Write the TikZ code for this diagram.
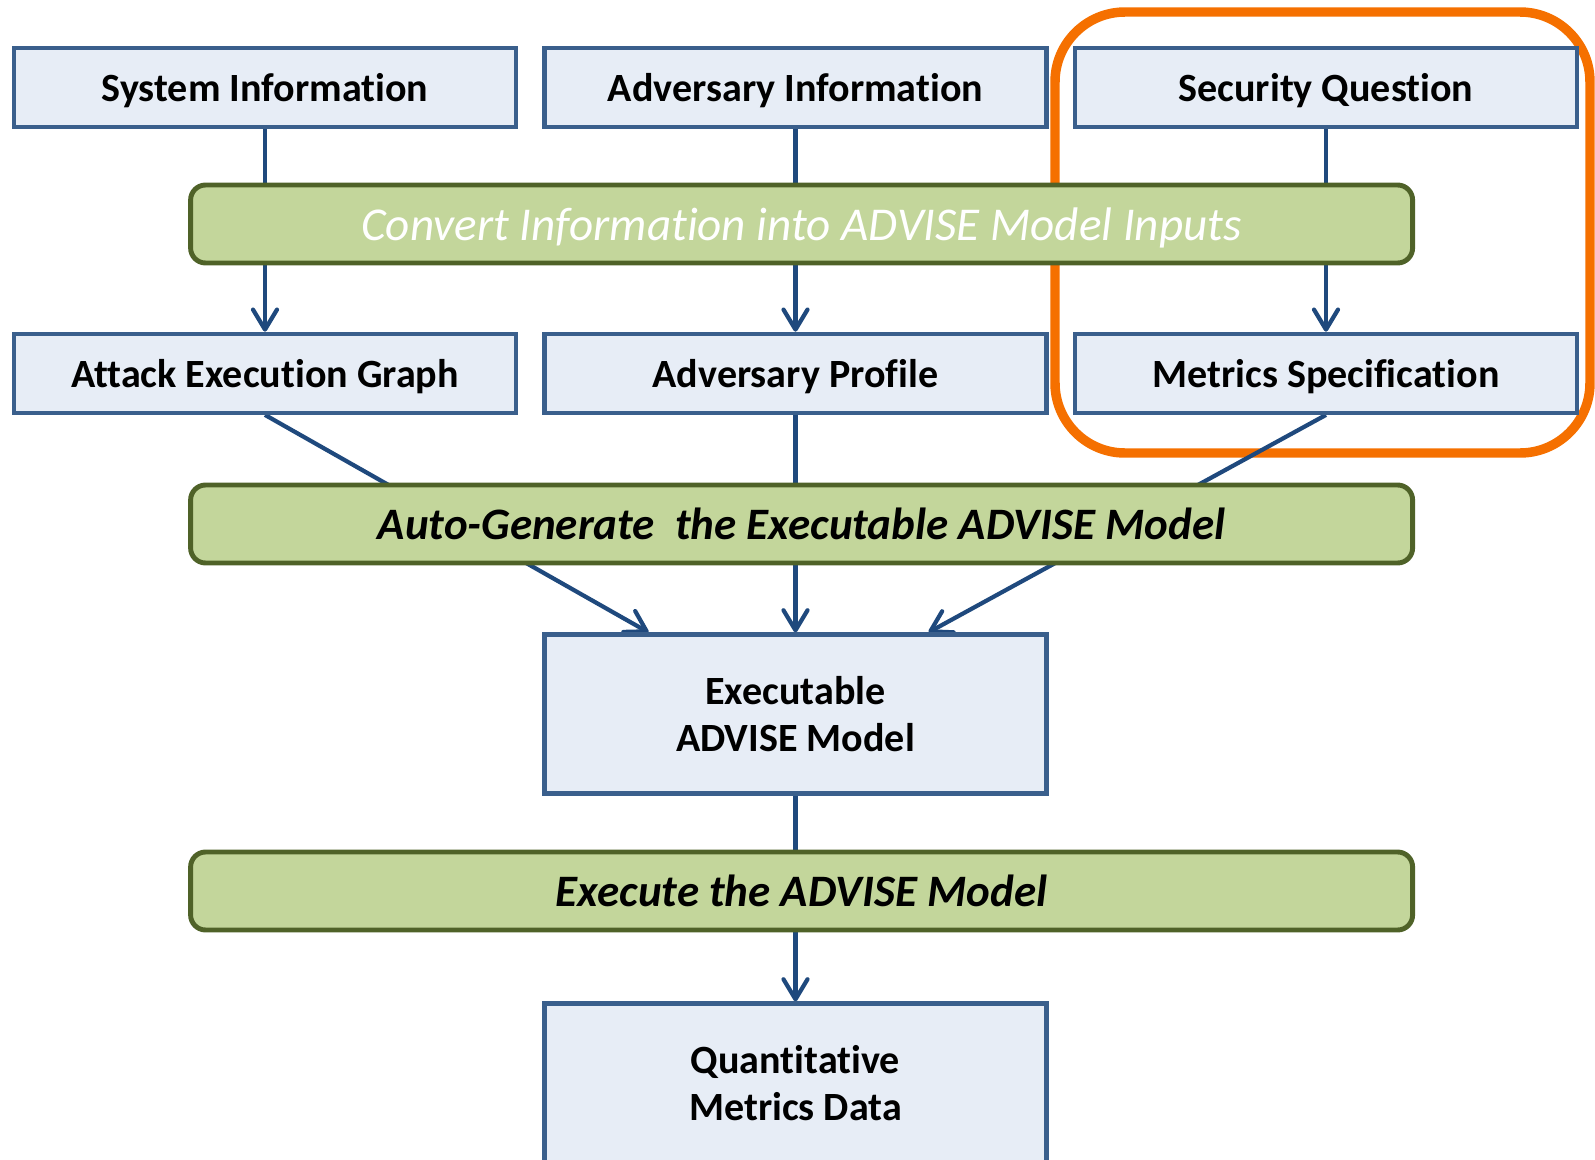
\documentclass[tikz,border=0pt]{standalone}
\usepackage{fontspec}
\setmainfont{Carlito}[Ligatures=NoCommon]
\usetikzlibrary{arrows.meta, positioning, backgrounds}
\definecolor{boxfill}{RGB}{231,237,246}
\definecolor{boxline}{RGB}{58,95,140}
\definecolor{stagefill}{RGB}{195,214,155}
\definecolor{stageline}{RGB}{79,98,40}
\definecolor{flowline}{RGB}{31,73,125}
\definecolor{focus}{RGB}{245,112,0}

\begin{document}
\begin{tikzpicture}[
    info/.style={rectangle, draw=boxline, fill=boxfill, line width=1.2pt,
                 minimum width=5.02cm, minimum height=0.79cm, inner sep=0pt, text depth=0pt,
                 align=center, font=\fontsize{11.4}{13.5}\selectfont\bfseries},
    stage/.style={rectangle, rounded corners=0.15cm, draw=stageline, fill=stagefill,
                  line width=1.4pt, minimum width=12.22cm, minimum height=0.78cm,
                  inner sep=0pt, text depth=0pt, font=\fontsize{12.8}{15}\selectfont\bfseries\itshape},
    flow/.style={draw=flowline, line width=1.2pt},
    arr/.style={flow, -{Straight Barb[length=2mm, width=2.4mm, round]}}]

    \useasboundingbox (0,0) rectangle (15.95,-11.6);

    % Information sources
    \node[info] (sysinfo) at (2.65, -0.875) {System Information};
    \node[info] (advinfo) at (7.955, -0.875) {Adversary Information};
    \node[info] (secq) at (13.26, -0.875) {Security Question};

    % Conversion step
    \node[stage, text=white, font=\fontsize{13.4}{16}\selectfont\itshape] (convert) at (8.016, -2.24) {Convert Information into ADVISE Model Inputs};

    % Model inputs
    \node[info] (aeg) at (2.65, -3.733) {Attack Execution Graph};
    \node[info] (advprof) at (7.955, -3.733) {Adversary Profile};
    \node[info] (metrics) at (13.26, -3.733) {Metrics Specification};

    % Generation and execution
    \node[stage] (autogen) at (8.016, -5.24) {Auto-Generate\ \ the Executable ADVISE Model};
    \node[info, minimum height=1.59cm, text depth={}] (execmodel) at (7.955, -7.14) {Executable\\ADVISE Model};
    \node[stage] (execute) at (8.016, -8.91) {Execute the ADVISE Model};
    \node[info, minimum height=1.59cm, text depth={}] (quant) at (7.955, -10.83) {Quantitative\\Metrics Data};

    \begin{scope}[on background layer]
        % Highlight
        \draw[focus, line width=2.7pt, rounded corners=0.7cm] (10.55, -0.12) rectangle (15.9, -4.53);

        % Connections
        \draw[arr] (sysinfo.south) -- (aeg.north);
        \draw[arr] (advinfo.south) -- (advprof.north);
        \draw[arr] (secq.south) -- (metrics.north);
        \draw[arr] (aeg.south) -- ([xshift=-1.47cm]execmodel.north);
        \draw[arr] (advprof.south) -- (execmodel.north);
        \draw[arr] (metrics.south) -- ([xshift=1.33cm]execmodel.north);
        \draw[arr] (execmodel.south) -- (quant.north);
    \end{scope}
\end{tikzpicture}
\end{document}
